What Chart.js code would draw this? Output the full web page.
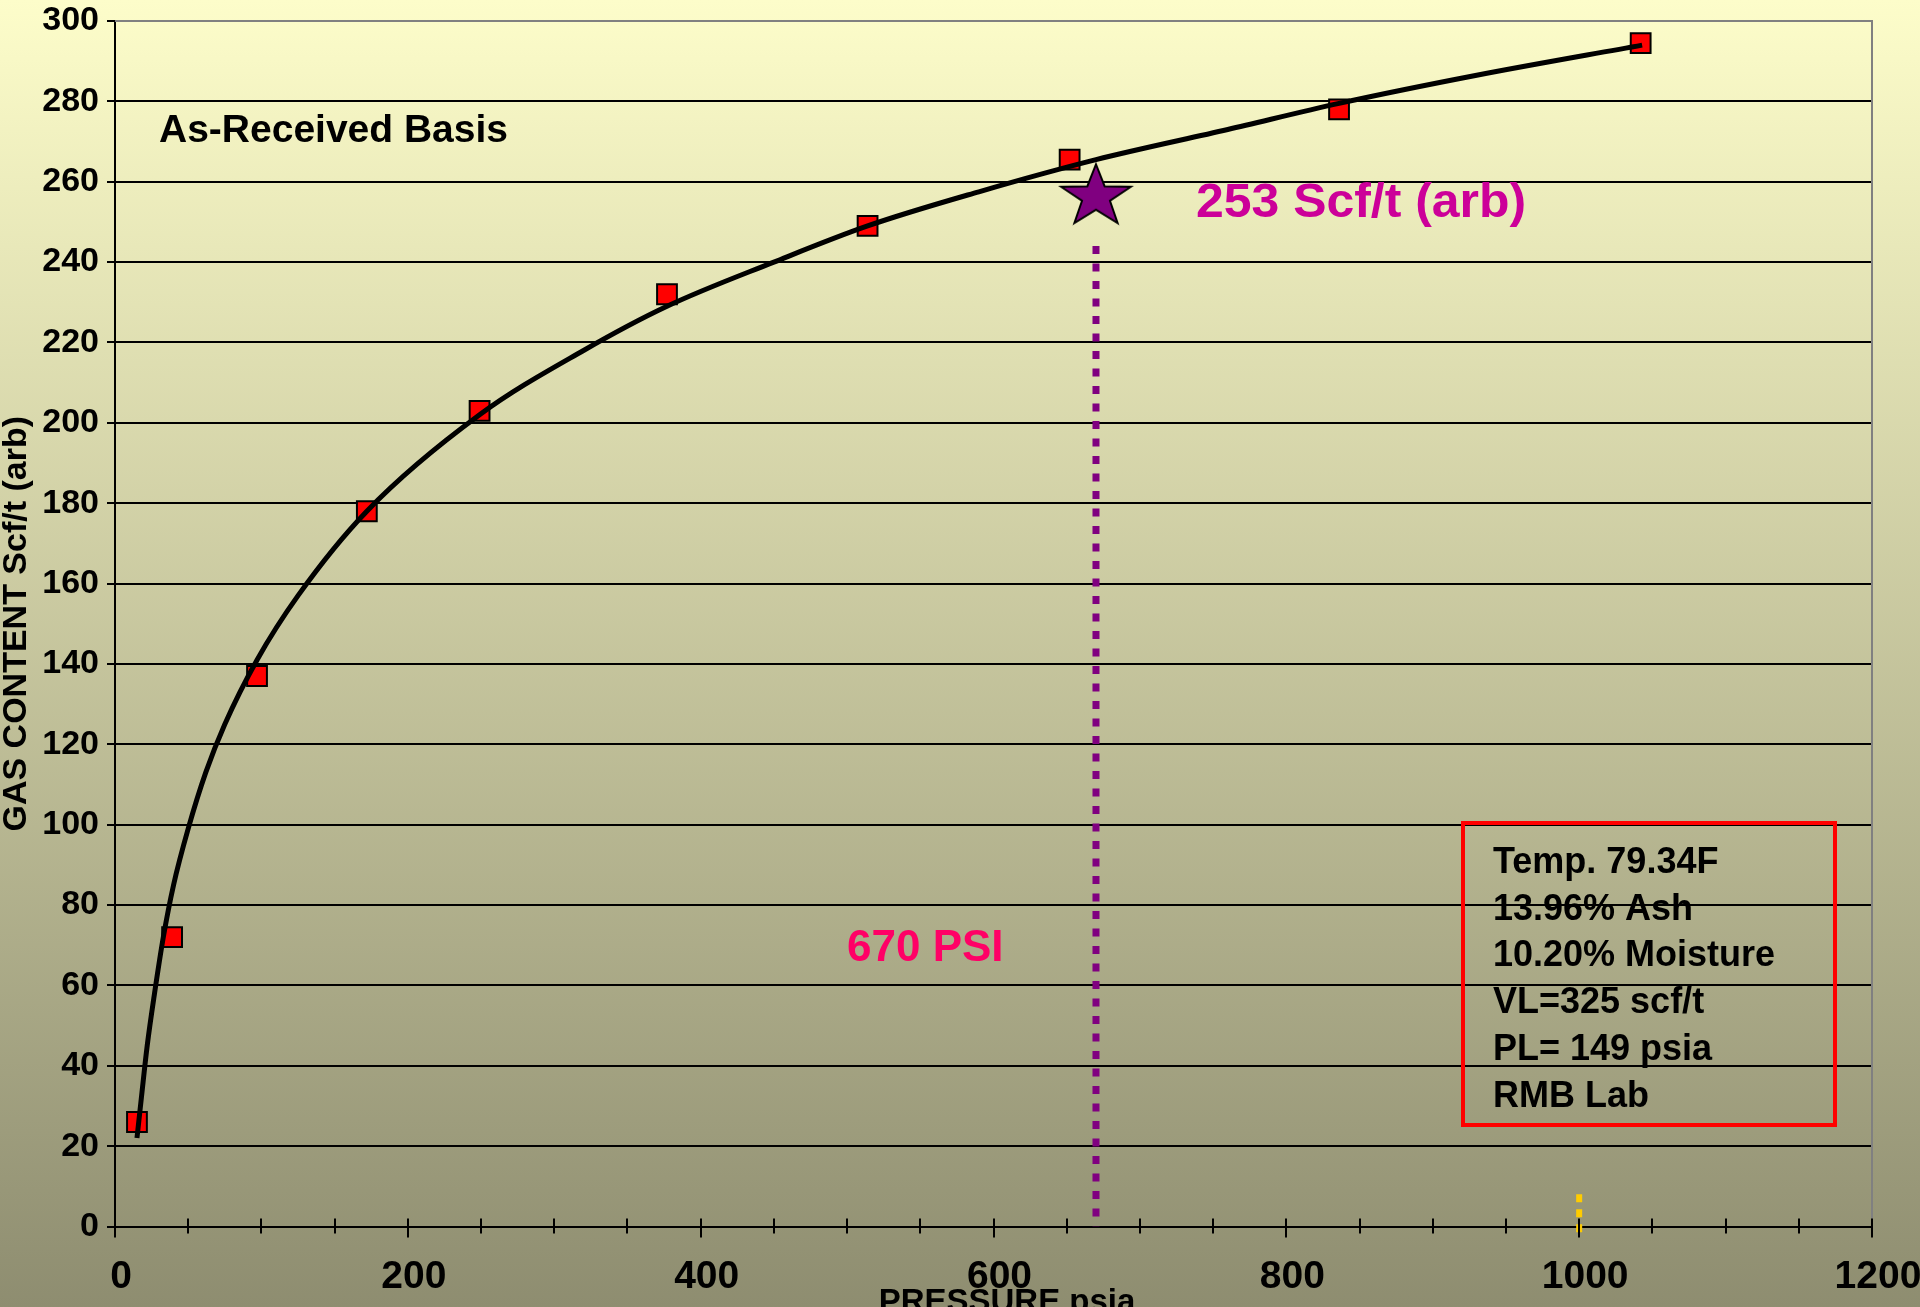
<!DOCTYPE html>
<html lang="en">
<head>
<meta charset="UTF-8">
<title>Gas Content Isotherm</title>
<script src="https://cdn.jsdelivr.net/npm/chart.js"></script>
<style>
    html, body {
        margin: 0;
        padding: 0;
        overflow: hidden;
    }
    body {
        width: 1920px;
        height: 1307px;
        background: linear-gradient(to bottom, #fdfdca 0%, #8e8d70 100%);
    }
    canvas { display: block; }
</style>
</head>
<body>
<canvas id="isoChart" width="1920" height="1307"></canvas>
<script>
// curve (pressure psia / scf/t)
const curvePressure = [15, 18, 22, 27, 33, 40, 50, 62, 75, 97, 125, 172, 249, 320, 377, 450, 514, 590, 670, 760, 836, 930, 1043];
const curveGas      = [22, 32, 45, 58, 72, 85, 99, 113, 125, 141, 157, 178, 202, 218, 229, 240, 249, 257.5, 265.5, 273, 279.5, 286.5, 294];

// measured points (red squares)
const labPressure = [15, 39, 97, 172, 249, 377, 514, 652, 836, 1042];
const labGas      = [26, 72, 137, 178, 203, 232, 249, 265.5, 278, 294.5];

// star + cut-off lines (drawn top -> down so the dashes start at the top)
const starPressure = [670];
const starGas      = [257];
const cutoffPressure = [670, 670];
const cutoffGas      = [244, 0];
const refPressure = [1000, 1000];
const refGas      = [8, -2];

const infoLines = ['Temp. 79.34F', '13.96% Ash', '10.20% Moisture', 'VL=325 scf/t', 'PL= 149 psia', 'RMB Lab'];

const xMin = 0, xMax = 1200, xMinorStep = 50, xLabelStep = 200;
const yMin = 0, yMax = 300, yStep = 20;

const FONT = "'Liberation Sans', Arial, sans-serif";

function pts(xs, ys) {
    return xs.map((x, i) => ({ x: x, y: ys[i] }));
}

// five point star used as marker
function makeStar() {
    const c = document.createElement('canvas');
    c.width = 76;
    c.height = 64;
    const g = c.getContext('2d');
    const R = 32.5, r = 13, sx = 1.13;
    const cx = 38, cy = 35;
    g.beginPath();
    for (let i = 0; i < 10; i++) {
        const rad = i % 2 === 0 ? R : r;
        const a = -Math.PI / 2 + i * Math.PI / 5;
        const px = cx + Math.cos(a) * rad * sx;
        const py = cy + Math.sin(a) * rad;
        if (i === 0) g.moveTo(px, py); else g.lineTo(px, py);
    }
    g.closePath();
    g.fillStyle = '#800080';
    g.fill();
    g.lineWidth = 2;
    g.strokeStyle = '#000';
    g.stroke();
    return c;
}

const slideDecor = {
    id: 'slideDecor',
    afterDraw(chart) {
        const ctx = chart.ctx;
        const area = chart.chartArea;
        const xs = chart.scales.x;
        ctx.save();

        // grey frame top + right
        ctx.strokeStyle = '#808080';
        ctx.lineWidth = 2;
        ctx.beginPath();
        ctx.moveTo(area.left, area.top);
        ctx.lineTo(area.right, area.top);
        ctx.lineTo(area.right, area.bottom);
        ctx.stroke();

        // x ticks crossing the axis
        ctx.strokeStyle = '#000';
        ctx.lineWidth = 2;
        for (let v = xMin; v <= xMax; v += xMinorStep) {
            const px = Math.round(xs.getPixelForValue(v));
            ctx.beginPath();
            ctx.moveTo(px, area.bottom - 8);
            ctx.lineTo(px, area.bottom + (v % xLabelStep === 0 ? 11 : 7));
            ctx.stroke();
        }

        // texts
        ctx.textBaseline = 'alphabetic';
        ctx.textAlign = 'left';
        ctx.fillStyle = '#000';
        ctx.font = 'bold 39px ' + FONT;
        ctx.fillText('As-Received Basis', 159, 142);

        ctx.fillStyle = '#cc0099';
        ctx.font = 'bold 48px ' + FONT;
        ctx.save();
        ctx.translate(1196, 217);
        ctx.scale(1.04, 1);
        ctx.fillText('253 Scf/t (arb)', 0, 0);
        ctx.restore();

        ctx.fillStyle = '#ff0066';
        ctx.font = 'bold 44px ' + FONT;
        ctx.fillText('670 PSI', 847, 961);

        // info box
        ctx.strokeStyle = '#ff0000';
        ctx.lineWidth = 4;
        ctx.strokeRect(1463, 823, 372, 302);
        ctx.fillStyle = '#000';
        ctx.font = 'bold 36px ' + FONT;
        infoLines.forEach((t, i) => {
            ctx.fillText(t, 1493, 873 + i * 46.7);
        });

        // axis title (cut off at bottom like the slide)
        ctx.textAlign = 'center';
        ctx.font = 'bold 33px ' + FONT;
        ctx.fillText('PRESSURE psia', 1007, 1312);

        ctx.restore();
    }
};

const ctx = document.getElementById('isoChart').getContext('2d');
new Chart(ctx, {
    type: 'scatter',
    data: {
        datasets: [
            {
                label: 'star',
                data: pts(starPressure, starGas),
                pointStyle: makeStar(),
                pointRadius: 10,
                showLine: false,
                order: 0
            },
            {
                label: 'fit',
                data: pts(curvePressure, curveGas),
                showLine: true,
                borderColor: '#000',
                borderWidth: 5,
                pointRadius: 0,
                cubicInterpolationMode: 'monotone',
                order: 1
            },
            {
                label: 'lab',
                data: pts(labPressure, labGas),
                pointStyle: 'rect',
                pointRadius: 14,
                backgroundColor: '#ff0000',
                borderColor: '#000',
                borderWidth: 2,
                showLine: false,
                order: 2
            },
            {
                label: 'cutoff',
                data: pts(cutoffPressure, cutoffGas),
                showLine: true,
                borderColor: '#800080',
                borderWidth: 7,
                borderDash: [8, 9.5],
                borderCapStyle: 'butt',
                pointRadius: 0,
                order: 3
            },
            {
                label: 'ref1000',
                data: pts(refPressure, refGas),
                showLine: true,
                borderColor: '#ffcc00',
                borderWidth: 6,
                borderDash: [8, 7],
                borderCapStyle: 'butt',
                pointRadius: 0,
                clip: false,
                order: 4
            }
        ]
    },
    options: {
        responsive: false,
        devicePixelRatio: 1,
        animation: false,
        layout: {
            autoPadding: false,
            padding: { top: 21, right: 48, left: 0, bottom: 0 }
        },
        plugins: {
            legend: { display: false },
            tooltip: { enabled: false }
        },
        scales: {
            x: {
                type: 'linear',
                position: 'bottom',
                min: xMin,
                max: xMax,
                afterFit(s) {
                    s.height = 80.5;
                    s.paddingLeft = 0;
                    s.paddingRight = 0;
                },
                border: { display: true, color: '#000', width: 2 },
                grid: {
                    drawOnChartArea: false,
                    drawTicks: false
                },
                ticks: {
                    stepSize: xMinorStep,
                    autoSkip: false,
                    maxRotation: 0,
                    padding: 27,
                    labelOffset: 6,
                    color: '#000',
                    font: { family: FONT, size: 39, weight: 'bold' },
                    callback: v => (v % xLabelStep === 0 ? v : '')
                }
            },
            y: {
                min: yMin,
                max: yMax,
                afterFit(s) {
                    s.width = 115;
                    s.paddingTop = 0;
                    s.paddingBottom = 0;
                },
                border: { display: true, color: '#000', width: 2 },
                grid: {
                    color: c => (c.tick && c.tick.value === yMax ? 'rgba(0,0,0,0)' : '#000'),
                    lineWidth: 2,
                    tickLength: 8,
                    tickColor: '#000',
                    tickWidth: 2
                },
                ticks: {
                    stepSize: yStep,
                    padding: 8,
                    color: '#000',
                    font: { family: FONT, size: 34, weight: 'bold' }
                },
                title: {
                    display: true,
                    text: 'GAS CONTENT Scf/t (arb)',
                    color: '#000',
                    padding: 0,
                    font: { family: FONT, size: 34, weight: 'bold', lineHeight: 1 }
                }
            }
        }
    },
    plugins: [slideDecor]
});
</script>
</body>
</html>
